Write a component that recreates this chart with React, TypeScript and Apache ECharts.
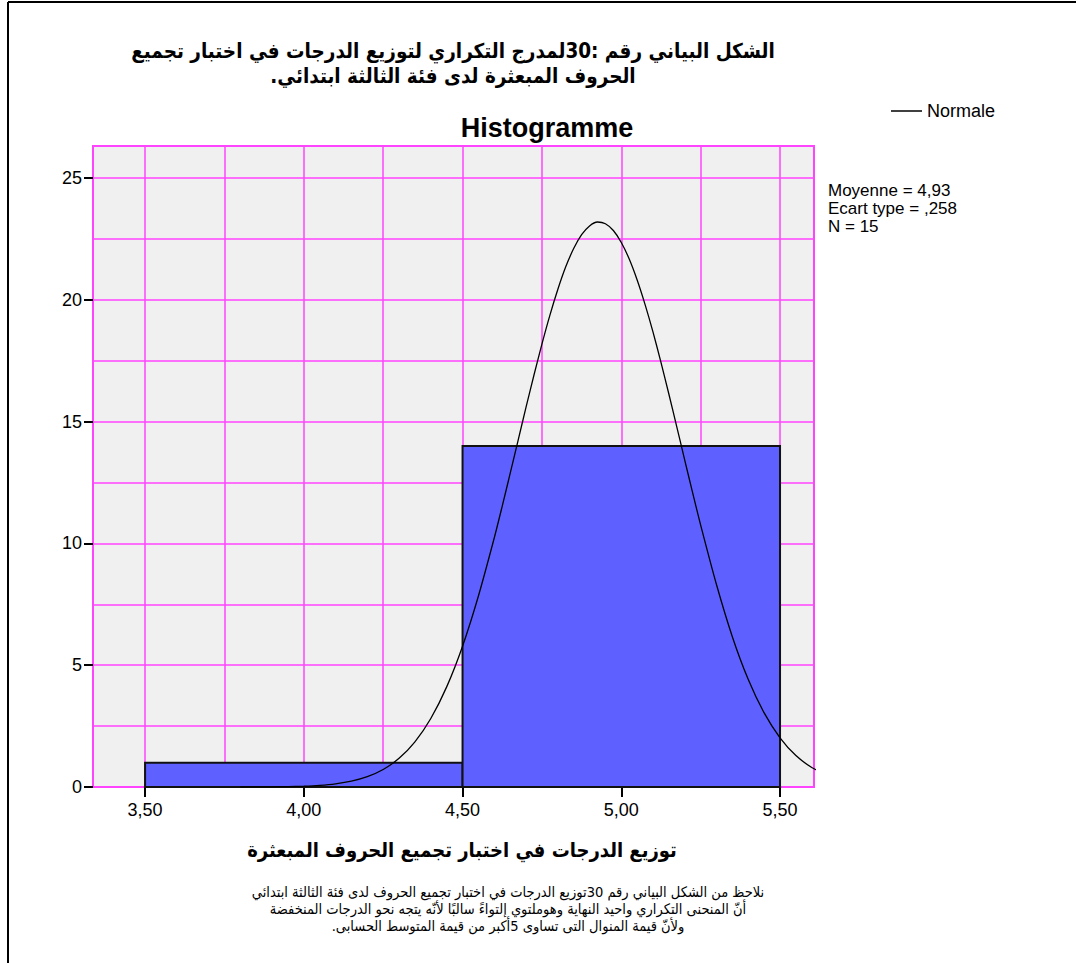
import React, { useEffect, useRef } from 'react';
import * as echarts from 'echarts';

// Histogram bins (scores) and frequencies
const binStart = [3.5, 4.5];
const binEnd = [4.5, 5.5];
const binCount = [1, 14];

// Normal curve overlay (mean 4,93, sd ,258, N 15)
const normalX = [3.8, 3.85, 3.9, 3.95, 4.0, 4.05, 4.1, 4.15, 4.2, 4.25, 4.3, 4.35, 4.4, 4.45, 4.5, 4.55, 4.6, 4.625, 4.65, 4.675, 4.7, 4.725, 4.75, 4.775, 4.8, 4.825, 4.85, 4.875, 4.9, 4.925, 4.95, 4.975, 5.0, 5.025, 5.05, 5.075, 5.1, 5.125, 5.15, 5.175, 5.2, 5.225, 5.25, 5.3, 5.35, 5.4, 5.45, 5.5, 5.55, 5.6, 5.65];
const normalY = [0.001, 0.004, 0.008, 0.017, 0.035, 0.069, 0.131, 0.24, 0.424, 0.719, 1.176, 1.853, 2.81, 4.11, 5.78, 7.84, 10.23, 11.53, 12.87, 14.23, 15.59, 16.91, 18.18, 19.36, 20.42, 21.35, 22.1, 22.67, 23.03, 23.19, 23.12, 22.84, 22.35, 21.67, 20.81, 19.8, 18.67, 17.43, 16.12, 14.77, 13.41, 12.06, 10.75, 8.3, 6.16, 4.41, 3.04, 2.02, 1.29, 0.8, 0.48];

const xTicks = [3.5, 4.0, 4.5, 5.0, 5.5];
const yTicks = [0, 5, 10, 15, 20, 25];

const statLines = ['Moyenne = 4,93', 'Ecart type = ,258', 'N = 15'];
const legendName = 'Normale';
const chartTitle = 'Histogramme';
const topTitleLines = [
  'الشكل البياني رقم :30لمدرج التكراري لتوزيع الدرجات في اختبار تجميع',
  'الحروف المبعثرة لدى فئة الثالثة ابتدائي.',
];
const xAxisName = 'توزيع الدرجات في اختبار تجميع الحروف المبعثرة';
const noteLines = [
  'نلاحظ من الشكل البياني رقم 30توزيع الدرجات في اختبار تجميع الحروف لدى فئة الثالثة ابتدائي',
  'أنّ المنحنى التكراري واحيد النهاية وهوملتوي إلتواءً سالبًا لأنّه يتجه نحو الدرجات المنخفضة',
  'ولأنّ قيمة المنوال التى تساوى 5أكبر من قيمة المتوسط الحسابى.',
];

const RLE = '\u202B';
const PDF = '\u202C';
const rtl = (s: string) => RLE + s + PDF;

const SANS = '"Liberation Sans", Arial, "DejaVu Sans", sans-serif';
const ARABIC = '"DejaVu Sans Condensed", "DejaVu Sans", sans-serif';
const MAGENTA = '#ff44ff';

export default function App() {
  const ref = useRef<HTMLDivElement>(null);

  useEffect(() => {
    document.body.style.margin = '0';
    if (!ref.current) return;
    const chart = echarts.init(ref.current, undefined, { renderer: 'svg' });

    const barData = binStart.map((s, i) => [s, binEnd[i], binCount[i]]);
    const lineData = normalX.map((x, i) => [x, normalY[i]]);

    chart.setOption({
      animation: false,
      backgroundColor: '#ffffff',
      title: {
        text: chartTitle,
        left: 542,
        top: 109,
        textAlign: 'center',
        textStyle: { fontFamily: SANS, fontSize: 27, fontWeight: 'bold', color: '#000' },
      },
      legend: {
        data: [legendName],
        left: 886,
        top: 97,
        icon: 'rect',
        itemWidth: 31,
        itemHeight: 1.5,
        textStyle: { fontFamily: SANS, fontSize: 18, color: '#000' },
      },
      grid: {
        left: 93,
        top: 146,
        right: 1076 - 814,
        bottom: 963 - 787,
        show: true,
        backgroundColor: '#f0f0f0',
        borderColor: MAGENTA,
        borderWidth: 2,
        containLabel: false,
      },
      xAxis: {
        type: 'value',
        min: 3.336,
        max: 5.607,
        axisLine: { show: false },
        axisTick: {
          show: true,
          customValues: xTicks,
          length: 10,
          lineStyle: { color: '#000', width: 2 },
        },
        axisLabel: {
          customValues: xTicks,
          margin: 14,
          fontFamily: SANS,
          fontSize: 18,
          color: '#000',
          formatter: (v: number) => v.toFixed(2).replace('.', ','),
        },
        splitLine: { show: true, lineStyle: { color: MAGENTA, width: 1.5 } },
        minorTick: { show: false, splitNumber: 2 },
        minorSplitLine: { show: true, lineStyle: { color: MAGENTA, width: 1.5 } },
      },
      yAxis: {
        type: 'value',
        min: 0,
        max: 26.31,
        axisLine: { show: false },
        axisTick: {
          show: true,
          customValues: yTicks,
          length: 9,
          lineStyle: { color: '#000', width: 2 },
        },
        axisLabel: {
          customValues: yTicks,
          margin: 11,
          fontFamily: SANS,
          fontSize: 18,
          color: '#000',
        },
        splitLine: { show: true, lineStyle: { color: MAGENTA, width: 1.5 } },
        minorTick: { show: false, splitNumber: 2 },
        minorSplitLine: { show: true, lineStyle: { color: MAGENTA, width: 1.5 } },
      },
      series: [
        {
          name: 'Fréquence',
          type: 'custom',
          z: 2,
          data: barData,
          encode: { x: [0, 1], y: 2 },
          renderItem: (params: any, api: any) => {
            const p0 = api.coord([api.value(0), api.value(2)]);
            const p1 = api.coord([api.value(1), 0]);
            return {
              type: 'rect',
              shape: { x: p0[0], y: p0[1], width: p1[0] - p0[0], height: p1[1] - p0[1] },
              style: { fill: '#5e60ff', stroke: '#111', lineWidth: 2 },
            };
          },
        },
        {
          name: legendName,
          type: 'line',
          z: 3,
          data: lineData,
          smooth: 0.25,
          showSymbol: false,
          symbol: 'none',
          clip: true,
          itemStyle: { color: '#000' },
          lineStyle: { color: '#000', width: 1.3 },
        },
      ],
      graphic: [
        {
          type: 'line',
          shape: { x1: 8, y1: 2, x2: 1076, y2: 2 },
          style: { stroke: '#000', lineWidth: 2 },
        },
        {
          type: 'line',
          shape: { x1: 8, y1: 2, x2: 8, y2: 963 },
          style: { stroke: '#000', lineWidth: 2 },
        },
        {
          type: 'text',
          x: 453,
          y: 38,
          style: {
            text: topTitleLines.map(rtl).join('\n'),
            textAlign: 'center',
            textVerticalAlign: 'top',
            font: 'bold 20.5px ' + ARABIC,
            lineHeight: 25,
            fill: '#000',
          },
        },
        {
          type: 'text',
          x: 828,
          y: 181,
          style: {
            text: statLines.join('\n'),
            textAlign: 'left',
            textVerticalAlign: 'top',
            font: '17px ' + SANS,
            lineHeight: 18,
            fill: '#000',
          },
        },
        {
          type: 'text',
          x: 462,
          y: 850,
          style: {
            text: rtl(xAxisName),
            textAlign: 'center',
            textVerticalAlign: 'middle',
            font: 'bold 20px ' + ARABIC,
            fill: '#000',
          },
        },
        {
          type: 'text',
          x: 508,
          y: 883,
          style: {
            text: noteLines.map(rtl).join('\n'),
            textAlign: 'center',
            textVerticalAlign: 'top',
            font: '14.5px ' + ARABIC,
            lineHeight: 17,
            fill: '#000',
          },
        },
      ],
    });

    return () => chart.dispose();
  }, []);

  return <div ref={ref} style={{ width: 1076, height: 963 }} />;
}
